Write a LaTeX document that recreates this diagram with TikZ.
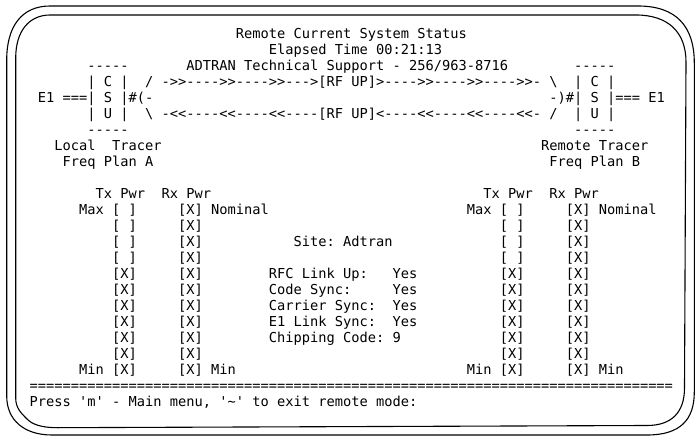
\documentclass[tikz,border=0pt]{standalone}
\usepackage{fontspec}
\setmonofont{DejaVu Sans Mono}
\frenchspacing
\begin{document}
\begin{tikzpicture}[x=1pt,y=-1pt,
  term/.style={font=\ttfamily\fontsize{13.7}{16}\selectfont, anchor=base west,
               inner sep=0pt, outer sep=0pt, text=black},
  bezel/.style={line width=1.1pt, draw=black, line join=round}]
\useasboundingbox (0,0) rectangle (697,436);
\fill[white] (0,0) rectangle (697,436);

% outer bezel of the screen
\draw[bezel] (50,6) -- (638,6)
  .. controls (676,6) and (694.3,26) .. (694.3,63) -- (694.3,392)
  .. controls (694.3,420) and (680,435) .. (647,435) -- (52,435)
  .. controls (24,435) and (6.7,420) .. (6.7,396) -- (6.7,60)
  .. controls (6.7,26) and (22,6) .. (50,6) -- cycle;
% inner bezel of the screen
\draw[bezel] (50,15) -- (636,15)
  .. controls (668,15) and (686,32) .. (686,62) -- (684.5,388)
  .. controls (684.5,412) and (672,425.5) .. (647,425.5) -- (58,427.7)
  .. controls (40,427.7) and (32,424) .. (27,419)
  .. controls (21,413) and (15.7,408) .. (15.7,398) -- (15.7,58)
  .. controls (15.7,30) and (30,15) .. (50,15) -- cycle;

% terminal text: x = column, y = row
\begin{scope}[x=8.25pt, y=-16.02pt, shift={(29.7pt,-38.3pt)}]
  \node[term] (title)   at (25,0) {Remote Current System Status};
  \node[term] (elapsed) at (29,1) {Elapsed Time 00:21:13};
  \node[term] (support) at (19,2) {ADTRAN Technical Support - 256/963-8716};

  % local CSU box
  \node[term] (lcsutop) at (7,2) {-----};
  \node[term] (lcsuc)   at (7,3) {| C |};
  \node[term] (lcsus)   at (1,4) {E1 ===| S |\#(-};
  \node[term] (lcsuu)   at (7,5) {| U |};
  \node[term] (lcsubot) at (7,6) {-----};
  % remote CSU box
  \node[term] (rcsutop) at (66,2) {-----};
  \node[term] (rcsuc)   at (66,3) {| C |};
  \node[term] (rcsus)   at (63,4) {-)\#| S |=== E1};
  \node[term] (rcsuu)   at (66,5) {| U |};
  \node[term] (rcsubot) at (66,6) {-----};

  % RF links
  \node[term] (rfup)   at (14,3) {/ ->>---->>---->>--->[RF UP]>---->>---->>---->>- \textbackslash};
  \node[term] (rfdown) at (14,5) {\textbackslash{} -<<----<<----<<----[RF UP]<----<<----<<----<<- /};

  \node[term] (llocal)  at (3,7)  {Local};
  \node[term] (ltracer) at (10,7) {Tracer};
  \node[term] (lplan)   at (4,8)  {Freq Plan A};
  \node[term] (rtracer) at (62,7) {Remote Tracer};
  \node[term] (rplan)   at (63,8) {Freq Plan B};

  % power bar headings
  \node[term] (ltxhead) at (8,10)  {Tx Pwr};
  \node[term] (lrxhead) at (16,10) {Rx Pwr};
  \node[term] (rtxhead) at (55,10) {Tx Pwr};
  \node[term] (rrxhead) at (63,10) {Rx Pwr};
  \node[term] (lmax)  at (6,11)  {Max};
  \node[term] (rmax)  at (53,11) {Max};
  \node[term] (lnom)  at (22,11) {Nominal};
  \node[term] (rnom)  at (69,11) {Nominal};
  \node[term] (lmin)  at (6,21)  {Min};
  \node[term] (rmin)  at (53,21) {Min};
  \node[term] (lmin2) at (22,21) {Min};
  \node[term] (rmin2) at (69,21) {Min};

  % power bars
  \foreach \r in {11,...,14} {
    \node[term] (ltx\r) at (10,\r) {[ ]};
    \node[term] (rtx\r) at (57,\r) {[ ]};
  }
  \foreach \r in {15,...,21} {
    \node[term] (ltx\r) at (10,\r) {[X]};
    \node[term] (rtx\r) at (57,\r) {[X]};
  }
  \foreach \r in {11,...,21} {
    \node[term] (lrx\r) at (18,\r) {[X]};
    \node[term] (rrx\r) at (65,\r) {[X]};
  }

  % link status
  \node[term] (site)    at (32,13) {Site: Adtran};
  \node[term] (rfclab)  at (29,15) {RFC Link Up:};
  \node[term] (rfcval)  at (44,15) {Yes};
  \node[term] (codelab) at (29,16) {Code Sync:};
  \node[term] (codeval) at (44,16) {Yes};
  \node[term] (carrlab) at (29,17) {Carrier Sync:};
  \node[term] (carrval) at (44,17) {Yes};
  \node[term] (e1lab)   at (29,18) {E1 Link Sync:};
  \node[term] (e1val)   at (44,18) {Yes};
  \node[term] (chiplab) at (29,19) {Chipping Code:};
  \node[term] (chipval) at (44,19) {9};

  \node[term] (rule)   at (0,22) {==============================================================================};
  \node[term] (prompt) at (0,23) {Press 'm' - Main menu, '\textasciitilde' to exit remote mode:};
\end{scope}
\end{tikzpicture}
\end{document}
